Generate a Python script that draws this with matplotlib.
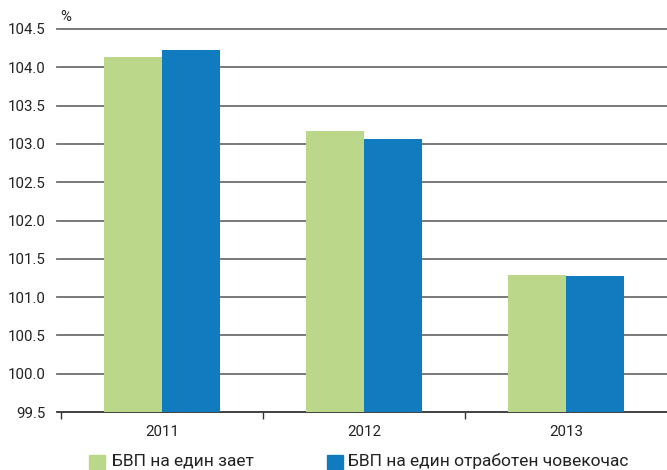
import numpy as np
import matplotlib
matplotlib.use('Agg')
import matplotlib.pyplot as plt
from matplotlib.patches import Rectangle

plt.rcParams['font.family'] = ['Roboto', 'DejaVu Sans']

years = ['2011', '2012', '2013']
per_employed = [104.13, 103.17, 101.29]
per_hour = [104.23, 103.06, 101.28]
labels = ['БВП на един зает', 'БВП на един отработен човекочас']
colors = ['#bbd88a', '#117bc0']

W, H = 667, 470
fig = plt.figure(figsize=(6.67, 4.70), dpi=100)
ax = fig.add_axes([61/W, 1 - 412/H, 1 - 61/W, (412 - 29)/H])

x = np.arange(len(years))
w = 0.287
ax.bar(x - w/2, per_employed, w, color=colors[0], zorder=3)
ax.bar(x + w/2, per_hour, w, color=colors[1], zorder=3)

ax.set_ylim(99.5, 104.5)
ax.set_xlim(-0.5, 2.5)
yt = np.arange(99.5, 104.51, 0.5)
ax.set_yticks(yt)
ax.set_yticklabels([f'{v:.1f}' for v in yt], fontsize=10.8, color='#222222')
for v in yt[1:]:
    ax.axhline(v, xmin=-4/606, xmax=1, color='#6e6e6e', lw=1.3, zorder=1, clip_on=False)
ax.tick_params(axis='y', length=0, pad=11)

ax.set_xticks(x)
ax.set_xticklabels(years, fontsize=10.8, color='#222222')
ax.set_xticks([-0.5, 0.5, 1.5], minor=True)
ax.tick_params(axis='x', which='major', length=0, pad=9)
ax.tick_params(axis='x', which='minor', length=5, width=1, color='#333333', direction='out')

for s in ['top', 'right', 'left']:
    ax.spines[s].set_visible(False)
ax.spines['bottom'].set_color('#333333')
ax.spines['bottom'].set_linewidth(1.3)
ax.spines['bottom'].set_bounds(-0.5 - 4/202, 2.5)

fig.text(60/W, 1 - 17/H, '%', fontsize=10.8, color='#222222', va='center', ha='left')

# legend along the bottom edge
sq_x = [89, 327]
tx_x = [112, 348]
for c, lab, sx, tx in zip(colors, labels, sq_x, tx_x):
    fig.patches.append(Rectangle((sx/W, 1/H), 16/W, 14/H, transform=fig.transFigure,
                                 color=c, figure=fig))
    fig.text(tx/W, 4/H, lab, fontsize=12.5, color='#222222', va='baseline', ha='left')

fig.savefig('out.png', dpi=100)
